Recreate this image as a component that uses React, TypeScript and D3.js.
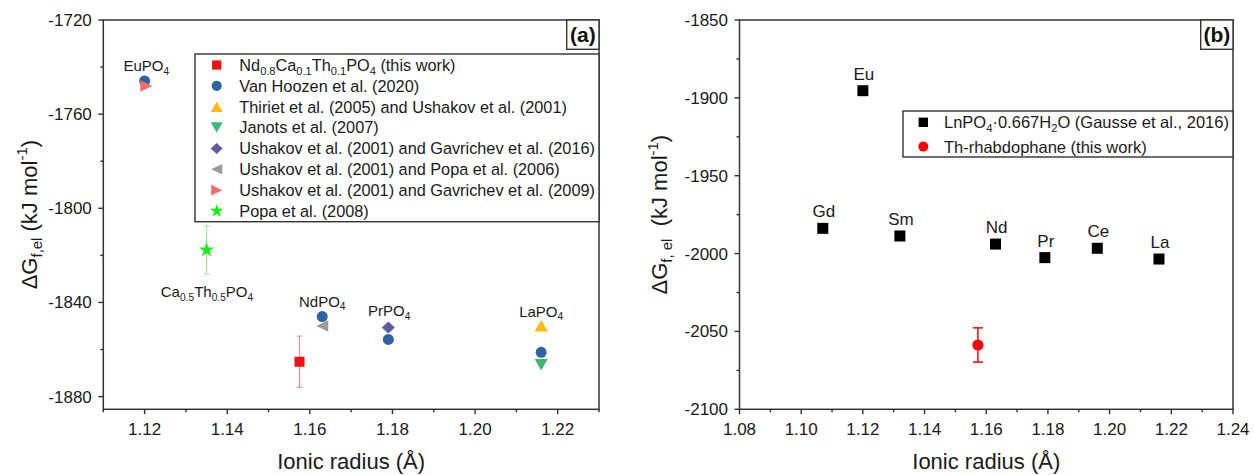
import React from 'react';
import * as d3 from 'd3';

const FONT = "'Liberation Sans', Arial, Helvetica, sans-serif";

// ---------- panel (a): monazite-type phosphates ----------
const radiusTicksA = [1.12, 1.14, 1.16, 1.18, 1.2, 1.22];
const radiusMinorA = [1.11, 1.13, 1.15, 1.17, 1.19, 1.21, 1.23];
const energyTicksA = [-1720, -1760, -1800, -1840, -1880];
const energyMinorA = [-1740, -1780, -1820, -1860];

type Pt = { r: number; g: number; err?: number };

const thisWorkA: Pt[] = [{ r: 1.1575, g: -1865.2, err: 10.9 }];
const vanHoozen: Pt[] = [
  { r: 1.12, g: -1745.9 },
  { r: 1.163, g: -1846.0 },
  { r: 1.179, g: -1855.7 },
  { r: 1.216, g: -1861.2 },
];
const thirietUshakov: Pt[] = [{ r: 1.216, g: -1849.9 }];
const janots: Pt[] = [{ r: 1.216, g: -1866.5 }];
const ushakovGavrichev2016: Pt[] = [{ r: 1.179, g: -1850.6 }];
const ushakovPopa: Pt[] = [{ r: 1.163, g: -1850.0 }];
const ushakovGavrichev2009: Pt[] = [{ r: 1.1204, g: -1748.0 }];
const popa2008: Pt[] = [{ r: 1.135, g: -1817.7, err: 10.2 }];

type Part = [string, 'n' | 'sub' | 'sup'];

const compoundLabelsA: { r: number; g: number; dy: number; parts: Part[] }[] = [
  { r: 1.1204, g: -1745.9, dy: -9.5, parts: [['EuPO', 'n'], ['4', 'sub']] },
  { r: 1.1351, g: -1817.7, dy: 47, parts: [['Ca', 'n'], ['0.5', 'sub'], ['Th', 'n'], ['0.5', 'sub'], ['PO', 'n'], ['4', 'sub']] },
  { r: 1.163, g: -1846.0, dy: -10, parts: [['NdPO', 'n'], ['4', 'sub']] },
  { r: 1.1792, g: -1850.6, dy: -11, parts: [['PrPO', 'n'], ['4', 'sub']] },
  { r: 1.216, g: -1849.9, dy: -9, parts: [['LaPO', 'n'], ['4', 'sub']] },
];

// ---------- panel (b): rhabdophane-type hydrates ----------
const radiusTicksB = [1.08, 1.1, 1.12, 1.14, 1.16, 1.18, 1.2, 1.22, 1.24];
const radiusMinorB = [1.09, 1.11, 1.13, 1.15, 1.17, 1.19, 1.21, 1.23];
const energyTicksB = [-1850, -1900, -1950, -2000, -2050, -2100];
const energyMinorB = [-1875, -1925, -1975, -2025, -2075];

const lanthanides = ['Gd', 'Eu', 'Sm', 'Nd', 'Pr', 'Ce', 'La'];
const lnRadius = [1.107, 1.12, 1.132, 1.163, 1.179, 1.196, 1.216];
const lnEnergy = [-1983.8, -1895.4, -1988.7, -1993.9, -2002.6, -1996.6, -2003.5];
const thRhabdophane: Pt[] = [{ r: 1.1573, g: -2058.7, err: 11.0 }];

// ---------- layout ----------
const TOP = 20;
const BOTTOM = 409.3;
const xA = d3.scaleLinear().domain([1.11, 1.23]).range([103.3, 599]);
const yA = d3.scaleLinear().domain([-1885.4, -1720]).range([BOTTOM, TOP]);
const xB = d3.scaleLinear().domain([1.08, 1.24]).range([739.5, 1233]);
const yB = d3.scaleLinear().domain([-2100, -1850]).range([BOTTOM, TOP]);
const fmtR = d3.format('.2f');
const AXIS = '#333';

type Shape = 'square' | 'circle' | 'up' | 'down' | 'diamond' | 'left' | 'right' | 'star';

function starPath(R: number) {
  const pts: [number, number][] = [];
  const rIn = R * 0.382;
  for (let i = 0; i < 10; i++) {
    const a = -Math.PI / 2 + (i * Math.PI) / 5;
    const rr = i % 2 === 0 ? R : rIn;
    pts.push([rr * Math.cos(a), rr * Math.sin(a)]);
  }
  return d3.line()(pts) + 'Z';
}

function Marker({ shape, x, y, color, k = 1 }: { shape: Shape; x: number; y: number; color: string; k?: number }) {
  const t = `translate(${x},${y})`;
  switch (shape) {
    case 'square':
      return <rect x={x - 5 * k} y={y - 5 * k} width={10 * k} height={10 * k} fill={color} />;
    case 'circle':
      return <circle cx={x} cy={y} r={5.5 * k} fill={color} />;
    case 'up': {
      const w = 13 * k, h = 11.5 * k;
      return <path transform={t} d={`M0,${-h / 2}L${w / 2},${h / 2}L${-w / 2},${h / 2}Z`} fill={color} />;
    }
    case 'down': {
      const w = 13 * k, h = 11.5 * k;
      return <path transform={t} d={`M0,${h / 2}L${w / 2},${-h / 2}L${-w / 2},${-h / 2}Z`} fill={color} />;
    }
    case 'diamond': {
      const w = 13 * k, h = 12 * k;
      return <path transform={t} d={`M0,${-h / 2}L${w / 2},0L0,${h / 2}L${-w / 2},0Z`} fill={color} />;
    }
    case 'left': {
      const w = 12 * k, h = 11.5 * k;
      return <path transform={t} d={`M${-w / 2},0L${w / 2},${-h / 2}L${w / 2},${h / 2}Z`} fill={color} />;
    }
    case 'right': {
      const w = 12 * k, h = 11.5 * k;
      return <path transform={t} d={`M${w / 2},0L${-w / 2},${-h / 2}L${-w / 2},${h / 2}Z`} fill={color} />;
    }
    case 'star':
      return <path transform={t} d={starPath(8 * k)} fill={color} />;
  }
}

function Rich({ parts, fs }: { parts: Part[]; fs: number }) {
  let cur = 0;
  return (
    <>
      {parts.map(([txt, kind], i) => {
        const target = kind === 'sub' ? fs * 0.24 : kind === 'sup' ? -fs * 0.42 : 0;
        const dy = target - cur;
        cur = target;
        return (
          <tspan key={i} dy={dy} fontSize={kind === 'n' ? fs : fs * 0.68}>
            {txt}
          </tspan>
        );
      })}
    </>
  );
}

function ErrorBar({ x, y0, y1, color, cap, width }: { x: number; y0: number; y1: number; color: string; cap: number; width: number }) {
  return (
    <g stroke={color} strokeWidth={width}>
      <line x1={x} x2={x} y1={y0} y2={y1} />
      <line x1={x - cap / 2} x2={x + cap / 2} y1={y0} y2={y0} />
      <line x1={x - cap / 2} x2={x + cap / 2} y1={y1} y2={y1} />
    </g>
  );
}

function Axes({
  xs, ys, xMajor, xMinor, yMajor, yMinor, yTitle, yTitleX, tag, tagWidth,
}: {
  xs: d3.ScaleLinear<number, number>;
  ys: d3.ScaleLinear<number, number>;
  xMajor: number[]; xMinor: number[]; yMajor: number[]; yMinor: number[];
  yTitle: Part[]; yTitleX: number; tag: string; tagWidth: number;
}) {
  const [l, r] = xs.range();
  const [b, t] = ys.range();
  return (
    <g fontFamily={FONT}>
      <rect x={l} y={t} width={r - l} height={b - t} fill="none" stroke={AXIS} strokeWidth={1.5} />
      <g stroke={AXIS} strokeWidth={1.4}>
        {xMajor.map((v) => <line key={'xM' + v} x1={xs(v)} x2={xs(v)} y1={b} y2={b + 5} />)}
        {xMinor.map((v) => <line key={'xm' + v} x1={xs(v)} x2={xs(v)} y1={b} y2={b + 3} />)}
        {yMajor.map((v) => <line key={'yM' + v} x1={l - 5} x2={l} y1={ys(v)} y2={ys(v)} />)}
        {yMinor.map((v) => <line key={'ym' + v} x1={l - 3} x2={l} y1={ys(v)} y2={ys(v)} />)}
      </g>
      <g fontSize={17} fill="#1a1a1a">
        {xMajor.map((v) => (
          <text key={'xl' + v} x={xs(v)} y={435} textAnchor="middle">{fmtR(v)}</text>
        ))}
        {yMajor.map((v) => (
          <text key={'yl' + v} x={l - 11.5} y={ys(v) + 6} textAnchor="end">{v}</text>
        ))}
      </g>
      <text x={(l + r) / 2} y={469} textAnchor="middle" fontSize={22} fill="#1a1a1a">Ionic radius (Å)</text>
      <text
        transform={`translate(${yTitleX},${(t + b) / 2}) rotate(-90)`}
        textAnchor="middle"
        fill="#1a1a1a"
        style={{ whiteSpace: 'pre' }}
      >
        <Rich parts={yTitle} fs={22} />
      </text>
      <rect x={r - tagWidth} y={t} width={tagWidth} height={29.3} fill="#fff" stroke={AXIS} strokeWidth={1.4} />
      <text x={r - tagWidth / 2} y={t + 22} textAnchor="middle" fontSize={21} fontWeight="bold" fill="#111">{tag}</text>
    </g>
  );
}

const seriesA: { name: Part[]; shape: Shape; color: string; pts: Pt[]; errColor?: string }[] = [
  {
    name: [['Nd', 'n'], ['0.8', 'sub'], ['Ca', 'n'], ['0.1', 'sub'], ['Th', 'n'], ['0.1', 'sub'], ['PO', 'n'], ['4', 'sub'], [' (this work)', 'n']],
    shape: 'square', color: '#ee1111', pts: thisWorkA, errColor: '#f28b8b',
  },
  { name: [['Van Hoozen et al. (2020)', 'n']], shape: 'circle', color: '#2f62a2', pts: vanHoozen },
  { name: [['Thiriet et al. (2005) and Ushakov et al. (2001)', 'n']], shape: 'up', color: '#ffb90f', pts: thirietUshakov },
  { name: [['Janots et al. (2007)', 'n']], shape: 'down', color: '#3cb873', pts: janots },
  { name: [['Ushakov et al. (2001) and Gavrichev et al. (2016)', 'n']], shape: 'diamond', color: '#5b5b9e', pts: ushakovGavrichev2016 },
  { name: [['Ushakov et al. (2001) and Popa et al. (2006)', 'n']], shape: 'left', color: '#9b9b9b', pts: ushakovPopa },
  { name: [['Ushakov et al. (2001) and Gavrichev et al. (2009)', 'n']], shape: 'right', color: '#fa6a6a', pts: ushakovGavrichev2009 },
  { name: [['Popa et al. (2008)', 'n']], shape: 'star', color: '#14f014', pts: popa2008, errColor: '#97ec97' },
];

function PanelA() {
  const legX = 195, legY = 54, legR = 599, legB = 221.7;
  return (
    <g>
      <Axes
        xs={xA} ys={yA}
        xMajor={radiusTicksA} xMinor={radiusMinorA}
        yMajor={energyTicksA} yMinor={energyMinorA}
        yTitle={[['ΔG', 'n'], ['f,el', 'sub'], [' (kJ mol', 'n'], ['-1', 'sup'], [')', 'n']]}
        yTitleX={36.5}
        tag="(a)" tagWidth={32.3}
      />
      {seriesA.map((s, si) => (
        <g key={si}>
          {s.pts.map((p, i) =>
            p.err !== undefined ? (
              <ErrorBar key={'e' + i} x={xA(p.r)} y0={yA(p.g + p.err)} y1={yA(p.g - p.err)} color={s.errColor!} cap={5.5} width={1.1} />
            ) : null
          )}
          {s.pts.map((p, i) => (
            <Marker key={i} shape={s.shape} x={xA(p.r)} y={yA(p.g)} color={s.color} />
          ))}
        </g>
      ))}
      <g fontFamily={FONT} fontSize={15} fill="#1a1a1a">
        {compoundLabelsA.map((lb, i) => (
          <text key={i} x={xA(lb.r)} y={yA(lb.g) + lb.dy} textAnchor="middle">
            <Rich parts={lb.parts} fs={15} />
          </text>
        ))}
      </g>
      <rect x={legX} y={legY} width={legR - legX} height={legB - legY} fill="#fff" stroke={AXIS} strokeWidth={1.4} />
      <g fontFamily={FONT} fill="#1a1a1a" style={{ whiteSpace: 'pre' }}>
        {seriesA.map((s, i) => {
          const cy = 65 + i * 20.86;
          return (
            <g key={i}>
              <Marker shape={s.shape} x={216.7} y={cy} color={s.color} k={s.shape === 'star' ? 0.88 : 0.92} />
              <text x={239.3} y={cy + 5.9}>
                <Rich parts={s.name} fs={16.3} />
              </text>
            </g>
          );
        })}
      </g>
    </g>
  );
}

function PanelB() {
  const legX = 903, legY = 111, legR = 1233, legB = 157;
  const rows = [122.3, 146.6];
  return (
    <g>
      <Axes
        xs={xB} ys={yB}
        xMajor={radiusTicksB} xMinor={radiusMinorB}
        yMajor={energyTicksB} yMinor={energyMinorB}
        yTitle={[['ΔG', 'n'], ['f, el', 'sub'], ['  (kJ mol', 'n'], ['-1', 'sup'], [')', 'n']]}
        yTitleX={667}
        tag="(b)" tagWidth={32.3}
      />
      {lanthanides.map((ln, i) => (
        <g key={ln}>
          <rect x={xB(lnRadius[i]) - 5.5} y={yB(lnEnergy[i]) - 5.5} width={11} height={11} fill="#000" />
          <text
            x={xB(lnRadius[i]) + 1}
            y={yB(lnEnergy[i]) - 11}
            textAnchor="middle"
            fontFamily={FONT}
            fontSize={17}
            fill="#1a1a1a"
          >
            {ln}
          </text>
        </g>
      ))}
      {thRhabdophane.map((p, i) => (
        <g key={i}>
          <ErrorBar x={xB(p.r)} y0={yB(p.g + p.err!)} y1={yB(p.g - p.err!)} color="#e41a1a" cap={10} width={1.6} />
          <circle cx={xB(p.r)} cy={yB(p.g)} r={5.6} fill="#ff0000" />
        </g>
      ))}
      <rect x={legX} y={legY} width={legR - legX} height={legB - legY} fill="#fff" stroke={AXIS} strokeWidth={1.4} />
      <g fontFamily={FONT} fill="#1a1a1a">
        <rect x={923.3 - 4.7} y={rows[0] - 4.7} width={9.4} height={9.4} fill="#000" />
        <text x={944} y={rows[0] + 6}>
          <Rich parts={[['LnPO', 'n'], ['4', 'sub'], ['·0.667H', 'n'], ['2', 'sub'], ['O (Gausse et al., 2016)', 'n']]} fs={16.5} />
        </text>
        <circle cx={923.3} cy={rows[1]} r={5} fill="#ff0000" />
        <text x={944} y={rows[1] + 6} fontSize={16.5}>Th-rhabdophane (this work)</text>
      </g>
    </g>
  );
}

export default function App() {
  return (
    <svg
      width={1255}
      height={475}
      viewBox="0 0 1255 475"
      style={{ position: 'absolute', left: 0, top: 0, background: '#fff' }}
    >
      <rect width={1255} height={475} fill="#fff" />
      <PanelA />
      <PanelB />
    </svg>
  );
}
